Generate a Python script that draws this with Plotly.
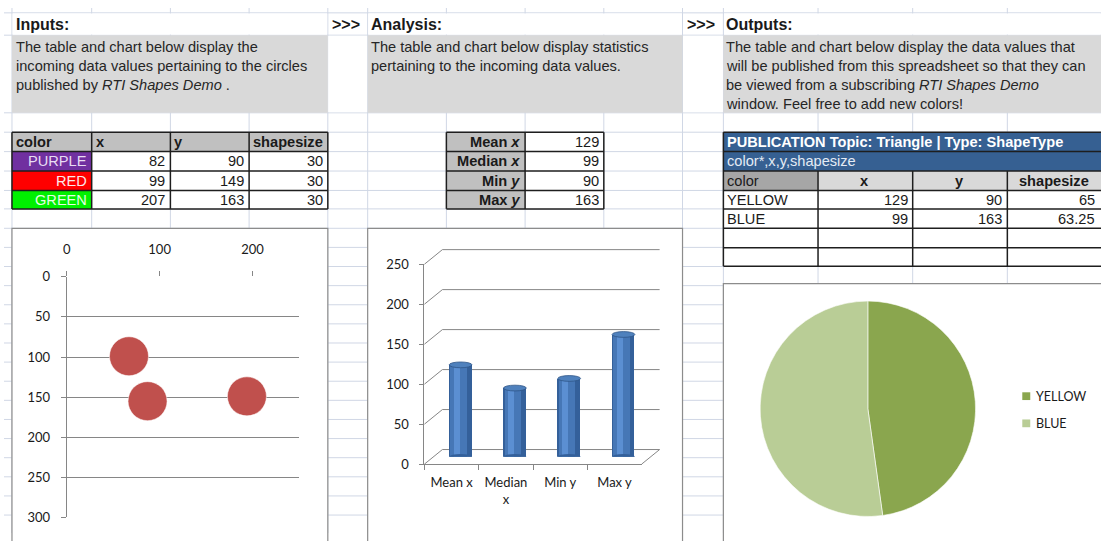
import plotly.graph_objects as go

W, H = 1101, 541

# ---------------- data ----------------
input_colors = ["PURPLE", "RED", "GREEN"]
input_x = [82, 99, 207]
input_y = [90, 149, 163]
input_size = [30, 30, 30]

stat_names = ["Mean <i>x</i>", "Median <i>x</i>", "Min <i>y</i>", "Max <i>y</i>"]
stat_values = [129, 99, 90, 163]

output_colors = ["YELLOW", "BLUE"]
output_x = [129, 99]
output_y = [90, 163]
output_size = ["65", "63.25"]

bubble_x = [67, 87, 194]
bubble_y = [99, 155, 149]

bar_labels = ["Mean x", "Median<br>x", "Min y", "Max y"]
bar_values = [115, 86, 98, 153]

pie_labels = ["YELLOW", "BLUE"]
pie_values = [47.8, 52.2]
pie_colors = ["#8aa64e", "#b9cd96"]

scatter_xticks = [0, 100, 200]
scatter_yticks = [0, 50, 100, 150, 200, 250, 300]
bar_yticks = [0, 50, 100, 150, 200, 250]

# ---------------- helpers ----------------
SHEET = "Liberation Sans"
CHART = "Lato"
GRID = "#d0d7e5"
AXIS = "#868686"
BORDER = "#1e1e1e"


def X(p):
    return p / W


def Y(p):
    return 1 - p / H


shapes = []
annotations = []


def rect(x0, y0, x1, y1, fill=None, line=None, lw=1.0):
    shapes.append(dict(type="rect", xref="paper", yref="paper",
                       x0=X(x0), x1=X(x1), y0=Y(y1), y1=Y(y0),
                       fillcolor=fill or "rgba(0,0,0,0)",
                       line=dict(color=line or "rgba(0,0,0,0)", width=lw if line else 0),
                       layer="below"))


def seg(x0, y0, x1, y1, color, w=1.0):
    shapes.append(dict(type="line", xref="paper", yref="paper",
                       x0=X(x0), x1=X(x1), y0=Y(y0), y1=Y(y1),
                       line=dict(color=color, width=w), layer="below"))


def text(x, y, s, anchor="left", size=14.6, color="#1a1a1a", family=SHEET):
    annotations.append(dict(xref="paper", yref="paper", x=X(x), y=Y(y), text=s,
                            showarrow=False, xanchor=anchor, yanchor="middle",
                            font=dict(family=family, size=size, color=color)))


# ---------------- spreadsheet grid ----------------
col_edges = [8, 88, 167, 246, 325, 365, 444, 523, 602, 681, 722, 817, 912, 1007]
row_edges = [5, 28, 108, 128, 148, 168, 188, 207] + [227 + 19.7 * k for k in range(16)]
for cx in col_edges:
    seg(cx, 0, cx, H, GRID)
for ry in row_edges:
    seg(0, ry, W, ry, GRID)

# merged title rows and description blocks
for x0, x1 in [(8, 325), (365, 681), (722, 1101)]:
    rect(x0 + 0.6, 5.6, x1 - 0.6, 27.4, fill="white")
    rect(x0, 28, x1, 108, fill="#d9d9d9")
for x0, x1 in [(325, 365), (681, 722)]:
    rect(x0 + 0.6, 28.6, x1 - 0.6, 107.4, fill="white")

text(10, 17, "<b>Inputs:</b>", size=16)
text(327, 17, "<b>>>></b>", size=16)
text(366, 17, "<b>Analysis:</b>", size=16)
text(683, 17, "<b>>>></b>", size=16)
text(723, 17, "<b>Outputs:</b>", size=16)

desc_in = ["The table and chart below display the",
           "incoming data values pertaining to the circles",
           "published by <i>RTI Shapes Demo</i> ."]
desc_an = ["The table and chart below display statistics",
           "pertaining to the incoming data values."]
desc_out = ["The table and chart below display the data values that",
            "will be published from this spreadsheet so that they can",
            "be viewed from a subscribing <i>RTI Shapes Demo</i>",
            "window. Feel free to add new colors!"]
for i, s in enumerate(desc_in):
    text(10, 40 + 19.6 * i, s, color="#262626")
for i, s in enumerate(desc_an):
    text(366, 40 + 19.6 * i, s, color="#262626")
for i, s in enumerate(desc_out):
    text(723, 40 + 19.6 * i, s, color="#262626")

# ---------------- input table ----------------
ic = [8, 88, 167, 246, 325]
ir = [128, 148, 168, 188, 207]
rect(ic[0], ir[0], ic[4], ir[1], fill="#c0c0c0")
fills = ["#7030a0", "#ff0000", "#00f000"]
tcols = ["#e8dcf3", "#fde8e8", "#e6fde6"]
for i in range(3):
    rect(ic[0], ir[i + 1], ic[1], ir[i + 2], fill=fills[i])
    rect(ic[1], ir[i + 1], ic[4], ir[i + 2], fill="white")
for ry in ir:
    seg(ic[0], ry, ic[4], ry, BORDER, 1.5)
for cx in ic:
    seg(cx, ir[0], cx, ir[-1], BORDER, 1.5)
for j, h in enumerate(["color", "x", "y", "shapesize"]):
    text(ic[j] + 2, 138, "<b>%s</b>" % h)
for i in range(3):
    yc = (ir[i + 1] + ir[i + 2]) / 2
    text(ic[1] - 3, yc, input_colors[i], anchor="right", color=tcols[i])
    text(ic[2] - 3, yc, str(input_x[i]), anchor="right")
    text(ic[3] - 3, yc, str(input_y[i]), anchor="right")
    text(ic[4] - 3, yc, str(input_size[i]), anchor="right")

# ---------------- analysis table ----------------
ac = [444, 523, 602]
rect(ac[0], ir[0], ac[1], ir[-1], fill="#c0c0c0")
rect(ac[1], ir[0], ac[2], ir[-1], fill="white")
for ry in ir:
    seg(ac[0], ry, ac[2], ry, BORDER, 1.5)
for cx in ac:
    seg(cx, ir[0], cx, ir[-1], BORDER, 1.5)
for i in range(4):
    yc = (ir[i] + ir[i + 1]) / 2
    text(ac[1] - 3, yc, "<b>%s</b>" % stat_names[i], anchor="right")
    text(ac[2] - 3, yc, str(stat_values[i]), anchor="right")

# ---------------- output table ----------------
oc = [722, 817, 912, 1007, 1102]
orow = [128, 148, 168, 188, 207, 227, 247, 266]
rect(oc[0], orow[0], oc[4], orow[2], fill="#366092")
rect(oc[0], orow[2], oc[1], orow[3], fill="#a6a6a6")
rect(oc[1], orow[2], oc[4], orow[3], fill="#d9d9d9")
rect(oc[0], orow[3], oc[4], orow[-1], fill="white")
for ry in orow:
    seg(oc[0], ry, oc[4], ry, BORDER, 1.5)
seg(oc[0], orow[0], oc[0], orow[-1], BORDER, 1.5)
for cx in oc[1:4]:
    seg(cx, orow[2], cx, orow[-1], BORDER, 1.5)
text(724, 138, "<b>PUBLICATION Topic: Triangle | Type: ShapeType</b>", color="white")
text(724, 158, "color*,x,y,shapesize", color="#e4ebf5")
text(724, 178, "color")
for j, h in enumerate(["x", "y", "shapesize"]):
    text((oc[j + 1] + oc[j + 2]) / 2 - 1, 178, "<b>%s</b>" % h, anchor="center")
for i in range(2):
    yc = (orow[3 + i] + orow[4 + i]) / 2
    text(724, yc, output_colors[i])
    text(oc[2] - 3, yc, str(output_x[i]), anchor="right")
    text(oc[3] - 3, yc, str(output_y[i]), anchor="right")
    text(oc[4] - 5, yc, output_size[i], anchor="right")

# ---------------- chart boxes ----------------
rect(8, 227, 325, 550, fill="white", line="#8c8c8c", lw=1.2)
rect(365, 227, 681, 550, fill="white", line="#8c8c8c", lw=1.2)
rect(722, 284, 1110, 550, fill="white", line="#8c8c8c", lw=1.2)

# ---------------- 3-D bar back wall ----------------
bx0, bx1, by0, by1 = 422, 640, 470, 264   # front plane (value 0 -> by0, 250 -> by1)
dx, dy = 18, 15                            # depth offset
scale = (by0 - by1) / 250.0
for v in bar_yticks:
    fy = by0 - v * scale
    seg(bx0, fy, bx0 + dx, fy - dy, AXIS)
    seg(bx0 + dx, fy - dy, bx1 + dx, fy - dy, AXIS)
seg(bx1, by0, bx1 + dx, by0 - dy, AXIS)

# cylinder caps (ellipses) in the bar plane, derived from the data
half_w = 0.21
cap_h = 3.6  # value units (~3 px)
for i, v in enumerate(bar_values):
    shapes.append(dict(type="circle", xref="x3", yref="y3",
                       x0=i - half_w, x1=i + half_w, y0=-cap_h, y1=cap_h,
                       fillcolor="#34609a", line=dict(width=0), layer="above"))
    shapes.append(dict(type="circle", xref="x3", yref="y3",
                       x0=i - half_w, x1=i + half_w, y0=v - cap_h, y1=v + cap_h,
                       fillcolor="#4f81bd", line=dict(color="#2f5688", width=0.8), layer="above"))

# pie legend (manual)
for i, lab in enumerate(pie_labels):
    yc = 400 + 28 * i
    shapes.append(dict(type="rect", xref="paper", yref="paper",
                       x0=X(1022), x1=X(1030), y0=Y(yc + 4), y1=Y(yc - 4),
                       fillcolor=pie_colors[i], line=dict(width=0), layer="above"))
    text(1034, yc, lab, size=12.5, family=CHART, color="#1a1a1a")

# ---------------- traces ----------------
fig = go.Figure()

# bubble chart
fig.add_trace(go.Scatter(x=bubble_x, y=bubble_y, mode="markers",
                         marker=dict(size=39, color="#c0504d",
                                     line=dict(color="rgba(255,255,255,0.5)", width=1)),
                         xaxis="x", yaxis="y", hoverinfo="x+y"))

# front axis for bar chart (invisible carrier trace)
fig.add_trace(go.Scatter(x=bar_labels, y=bar_values, mode="markers",
                         marker=dict(opacity=0), xaxis="x2", yaxis="y2", hoverinfo="skip"))

# cylinder-like bars in the mid-depth plane
fig.add_trace(go.Bar(x=bar_labels, y=bar_values, width=2 * half_w,
                     marker=dict(color="#34609a", line=dict(width=0)), xaxis="x3", yaxis="y3"))
fig.add_trace(go.Bar(x=bar_labels, y=bar_values, width=0.30, offset=-0.18,
                     marker=dict(color="#4677b6", line=dict(width=0)), xaxis="x3", yaxis="y3", hoverinfo="skip"))
fig.add_trace(go.Bar(x=bar_labels, y=bar_values, width=0.11, offset=-0.12,
                     marker=dict(color="#5b8fd2", line=dict(width=0)), xaxis="x3", yaxis="y3", hoverinfo="skip"))

# pie
fig.add_trace(go.Pie(labels=pie_labels, values=pie_values, sort=False, direction="clockwise",
                     rotation=0, textinfo="none", marker=dict(colors=pie_colors, line=dict(color="white", width=0.6)),
                     domain=dict(x=[X(756), X(978)], y=[Y(524), Y(302)]), showlegend=False))

tickfont = dict(family=CHART, size=13, color="#1a1a1a")

fig.update_layout(
    width=W, height=H, margin=dict(l=0, r=0, t=0, b=0),
    paper_bgcolor="white", plot_bgcolor="rgba(0,0,0,0)",
    showlegend=False, barmode="overlay", bargap=0,
    shapes=shapes, annotations=annotations,
    xaxis=dict(domain=[X(63), X(296)], range=[0, 250], side="top", anchor="y",
               tickvals=scatter_xticks, showgrid=False, zeroline=False, showline=False,
               ticks="outside", ticklen=5, tickcolor=AXIS, ticklabelstandoff=12, tickfont=tickfont),
    yaxis=dict(domain=[Y(525), Y(277)], range=[300, 0], anchor="x",
               tickvals=scatter_yticks, showgrid=True, gridcolor=AXIS, gridwidth=1,
               zeroline=False, showline=True, linecolor=AXIS, ticks="outside", ticklen=5,
               tickcolor=AXIS, ticklabelstandoff=8, tickfont=tickfont),
    xaxis2=dict(domain=[X(bx0), X(bx1)], anchor="y2", type="category",
                categoryorder="array", categoryarray=bar_labels, range=[-0.5, 3.5],
                tickson="boundaries", ticks="outside", ticklen=5, tickcolor=AXIS,
                showline=True, linecolor=AXIS, showgrid=False, zeroline=False,
                ticklabelstandoff=6, tickfont=tickfont),
    yaxis2=dict(domain=[Y(by0), Y(by1)], anchor="x2", range=[0, 250], tickvals=bar_yticks,
                showgrid=False, zeroline=False, showline=True, linecolor=AXIS,
                ticks="outside", ticklen=4, tickcolor=AXIS, ticklabelstandoff=8, tickfont=tickfont),
    xaxis3=dict(domain=[X(bx0 + dx / 2), X(bx1 + dx / 2)], anchor="y3", type="category",
                categoryorder="array", categoryarray=bar_labels, range=[-0.5, 3.5], visible=False),
    yaxis3=dict(domain=[Y(by0 - dy / 2), Y(by1 - dy / 2)], anchor="x3", range=[0, 250], visible=False),
)

fig.write_html("out.html",
               post_script="document.body.style.margin='0px';document.body.style.overflow='hidden';",
               config={"responsive": False, "displayModeBar": False})
